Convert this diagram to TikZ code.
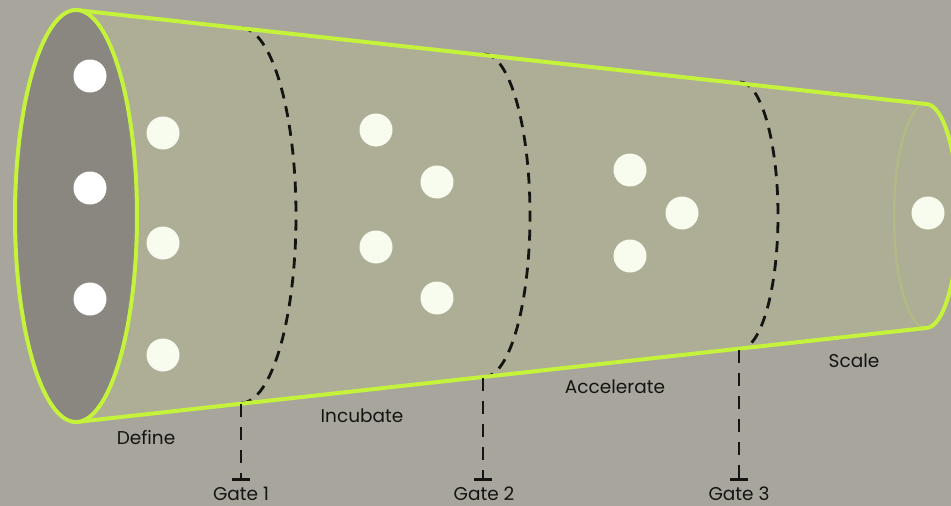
\documentclass[tikz,border=0pt]{standalone}
\usepackage{fontspec}
\setmainfont{Poppins}
\usetikzlibrary{arrows.meta}
\definecolor{bgc}{RGB}{168,165,156}
\definecolor{bodyc}{RGB}{173,174,149}
\definecolor{frontc}{RGB}{138,134,128}
\definecolor{limec}{RGB}{197,242,58}
\definecolor{dotc}{RGB}{248,252,238}
\definecolor{inkc}{RGB}{20,20,18}
\tikzset{
  outline/.style={draw=limec, line width=4pt, line join=round, line cap=round},
  faintline/.style={draw=limec, opacity=0.18, line width=2.5pt},
  dot/.style={circle, fill=dotc, minimum size=33pt, inner sep=0pt},
  frontdot/.style={circle, fill=white, minimum size=33pt, inner sep=0pt},
  gatecurve/.style={draw=inkc, line width=2.8pt, dash pattern=on 11pt off 8pt},
  gateline/.style={draw=inkc, line width=2.8pt, dash pattern=on 13pt off 10pt, -{Bar[width=18pt,line width=2.8pt]}},
  lbl/.style={anchor=base, inner sep=0pt, text=inkc, font=\fontsize{18.5}{22}\selectfont},
}
\begin{document}
\begin{tikzpicture}[x=1pt,y=-1pt]
\fill[bgc] (0,0) rectangle (951,506);
\useasboundingbox (0,0) rectangle (951,506);

% key points
\coordinate (ftop) at (76,10);
\coordinate (fbot) at (76,422);
\coordinate (rtop) at (926,104);
\coordinate (rbot) at (926,328);

% body of the funnel
\fill[bodyc] (ftop) -- (rtop) arc[start angle=-90, end angle=90, x radius=32, y radius=112] -- (fbot) -- cycle;
\draw[faintline] (rtop) arc[start angle=-90, end angle=-270, x radius=32, y radius=112];

% gate curves
\coordinate (g1top) at (241,28);
\coordinate (g1bot) at (241,403);
\coordinate (g2top) at (484,54);
\coordinate (g2bot) at (484,377);
\coordinate (g3top) at (740,82);
\coordinate (g3bot) at (740,349);
\draw[gatecurve] (g1top) arc[start angle=-90, end angle=90, x radius=55, y radius=187.5];
\draw[gatecurve] (g2top) arc[start angle=-90, end angle=90, x radius=46, y radius=161.5];
\draw[gatecurve] (g3top) arc[start angle=-90, end angle=90, x radius=38, y radius=133.5];

% outline
\draw[outline] (ftop) -- (rtop) arc[start angle=-90, end angle=90, x radius=32, y radius=112] -- (fbot);

% front opening
\draw[outline, fill=frontc] (76,216) ellipse[x radius=61, y radius=206];

% dots
\node[frontdot] (f1) at (90,76) {};
\node[frontdot] (f2) at (90,188) {};
\node[frontdot] (f3) at (90,299) {};
\node[dot] (a1) at (163,133) {};
\node[dot] (a2) at (163,243) {};
\node[dot] (a3) at (163,355) {};
\node[dot] (b1) at (376,130) {};
\node[dot] (b2) at (437,182) {};
\node[dot] (b3) at (376,247) {};
\node[dot] (b4) at (437,298) {};
\node[dot] (c1) at (630,170) {};
\node[dot] (c2) at (682,213) {};
\node[dot] (c3) at (630,256) {};
\node[dot] (d1) at (928,213) {};

% gate markers
\coordinate (g1end) at (241,481);
\coordinate (g2end) at (483,481);
\coordinate (g3end) at (739,481);
\draw[gateline] (241,404) -- (g1end);
\draw[gateline] (483,378) -- (g2end);
\draw[gateline] (739,350) -- (g3end);

% labels
\node[lbl] (gl1) at (241,500) {Gate 1};
\node[lbl] (gl2) at (484,500) {Gate 2};
\node[lbl] (gl3) at (739,500) {Gate 3};
\node[lbl] (s1) at (146,444) {Define};
\node[lbl] (s2) at (362,422) {Incubate};
\node[lbl] (s3) at (615,393) {Accelerate};
\node[lbl] (s4) at (854,367) {Scale};
\end{tikzpicture}
\end{document}
